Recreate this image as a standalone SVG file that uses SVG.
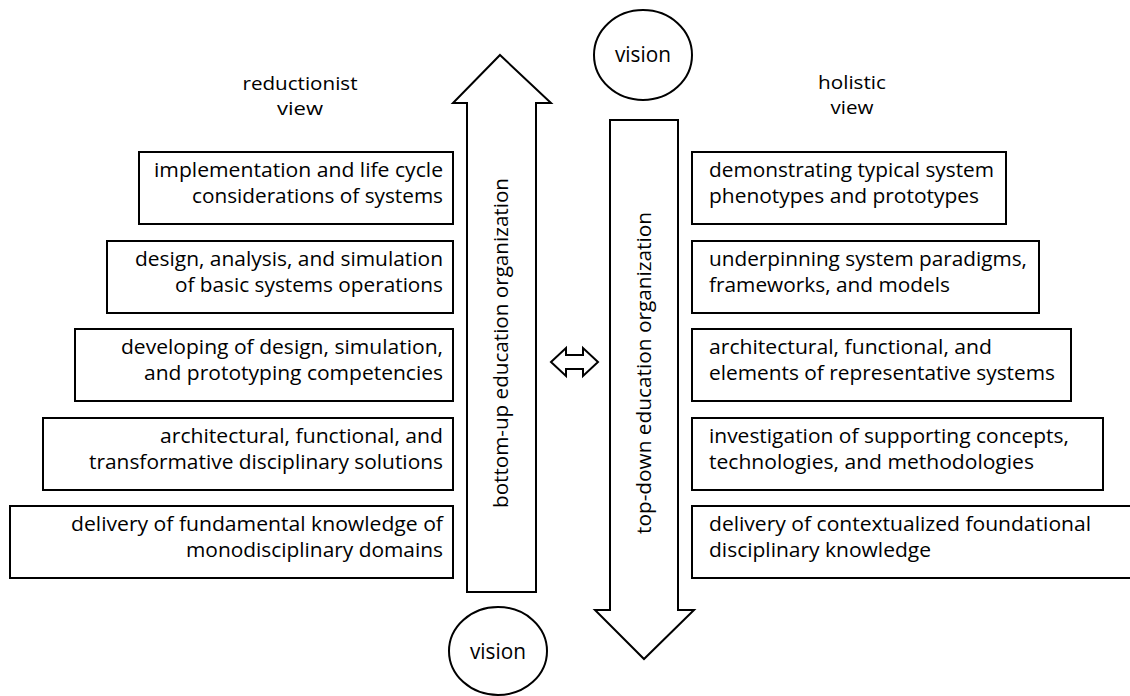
<svg xmlns="http://www.w3.org/2000/svg" width="1130" height="696" viewBox="0 0 1130 696">
<style>
.box{fill:#fff;stroke:#000;stroke-width:2}
.shape{fill:#fff;stroke:#000;stroke-width:2;stroke-linejoin:miter}
.t{font-family:"Open Sans","Noto Sans",sans-serif;font-size:19.5px;fill:#000}
.h{font-size:18px}
.v{font-size:21px}
.r{text-anchor:end}
.c{text-anchor:middle}
</style>
<rect width="1130" height="696" fill="#fff"/>
<g id="label-reductionist">
<text class="t h c" x="300" y="90" textLength="115" lengthAdjust="spacingAndGlyphs">reductionist</text>
<text class="t h c" x="300" y="115" textLength="46" lengthAdjust="spacingAndGlyphs">view</text>
</g>
<g id="label-holistic">
<text class="t h c" x="852" y="89" textLength="68" lengthAdjust="spacingAndGlyphs">holistic</text>
<text class="t h c" x="852" y="114" textLength="43" lengthAdjust="spacingAndGlyphs">view</text>
</g>
<g id="bottom-up-arrow">
<path class="shape" d="M500,55 L551,103 L536,103 L536,592 L467,592 L467,103 L453,103 Z"/>
<text class="t c" transform="translate(508,343) rotate(-90)" x="0" y="0" textLength="330" lengthAdjust="spacingAndGlyphs">bottom-up education organization</text>
</g>
<g id="top-down-arrow">
<path class="shape" d="M610,120 L678,120 L678,610 L694,610 L644,659 L595,610 L610,610 Z"/>
<text class="t c" transform="translate(651,373) rotate(-90)" x="0" y="0" textLength="322" lengthAdjust="spacingAndGlyphs">top-down education organization</text>
</g>
<g id="vision-top">
<ellipse class="shape" cx="643" cy="55" rx="49" ry="45"/>
<text class="t v c" x="643" y="62" textLength="56" lengthAdjust="spacingAndGlyphs">vision</text>
</g>
<g id="vision-bottom">
<ellipse class="shape" cx="498" cy="651" rx="49" ry="44"/>
<text class="t v c" x="498" y="659" textLength="56" lengthAdjust="spacingAndGlyphs">vision</text>
</g>
<g id="left-1">
<rect class="box" x="139" y="152" width="314" height="72"/>
<text class="t r" x="443" y="177" textLength="289" lengthAdjust="spacingAndGlyphs">implementation and life cycle</text>
<text class="t r" x="443" y="203" textLength="251" lengthAdjust="spacingAndGlyphs">considerations of systems</text>
</g>
<g id="left-2">
<rect class="box" x="107" y="241" width="346" height="72"/>
<text class="t r" x="443" y="266" textLength="308" lengthAdjust="spacingAndGlyphs">design, analysis, and simulation</text>
<text class="t r" x="443" y="292" textLength="268" lengthAdjust="spacingAndGlyphs">of basic systems operations</text>
</g>
<g id="left-3">
<rect class="box" x="75" y="329" width="378" height="72"/>
<text class="t r" x="443" y="354" textLength="322" lengthAdjust="spacingAndGlyphs">developing of design, simulation,</text>
<text class="t r" x="443" y="380" textLength="299" lengthAdjust="spacingAndGlyphs">and prototyping competencies</text>
</g>
<g id="left-4">
<rect class="box" x="43" y="418" width="410" height="72"/>
<text class="t r" x="443" y="443" textLength="283" lengthAdjust="spacingAndGlyphs">architectural, functional, and</text>
<text class="t r" x="443" y="469" textLength="354" lengthAdjust="spacingAndGlyphs">transformative disciplinary solutions</text>
</g>
<g id="left-5">
<rect class="box" x="10" y="506" width="443" height="72"/>
<text class="t r" x="443" y="531" textLength="372" lengthAdjust="spacingAndGlyphs">delivery of fundamental knowledge of</text>
<text class="t r" x="443" y="557" textLength="257" lengthAdjust="spacingAndGlyphs">monodisciplinary domains</text>
</g>
<g id="right-1">
<rect class="box" x="692" y="152" width="314" height="72"/>
<text class="t" x="709" y="177" textLength="285" lengthAdjust="spacingAndGlyphs">demonstrating typical system</text>
<text class="t" x="709" y="203" textLength="270" lengthAdjust="spacingAndGlyphs">phenotypes and prototypes</text>
</g>
<g id="right-2">
<rect class="box" x="692" y="241" width="347" height="72"/>
<text class="t" x="709" y="266" textLength="318" lengthAdjust="spacingAndGlyphs">underpinning system paradigms,</text>
<text class="t" x="709" y="292" textLength="241" lengthAdjust="spacingAndGlyphs">frameworks, and models</text>
</g>
<g id="right-3">
<rect class="box" x="692" y="329" width="379" height="72"/>
<text class="t" x="709" y="354" textLength="283" lengthAdjust="spacingAndGlyphs">architectural, functional, and</text>
<text class="t" x="709" y="380" textLength="346" lengthAdjust="spacingAndGlyphs">elements of representative systems</text>
</g>
<g id="right-4">
<rect class="box" x="692" y="418" width="411" height="72"/>
<text class="t" x="709" y="443" textLength="360" lengthAdjust="spacingAndGlyphs">investigation of supporting concepts,</text>
<text class="t" x="709" y="469" textLength="325" lengthAdjust="spacingAndGlyphs">technologies, and methodologies</text>
</g>
<g id="right-5">
<rect class="box" x="692" y="506" width="444" height="72"/>
<text class="t" x="709" y="531" textLength="382" lengthAdjust="spacingAndGlyphs">delivery of contextualized foundational</text>
<text class="t" x="709" y="557" textLength="222" lengthAdjust="spacingAndGlyphs">disciplinary knowledge</text>
</g>
<g id="connectors">
<path class="shape" d="M551,362 L566,348 L566,355 L583,355 L583,348 L598,362 L583,376 L583,369 L566,369 L566,376 Z"/>
</g>
</svg>
